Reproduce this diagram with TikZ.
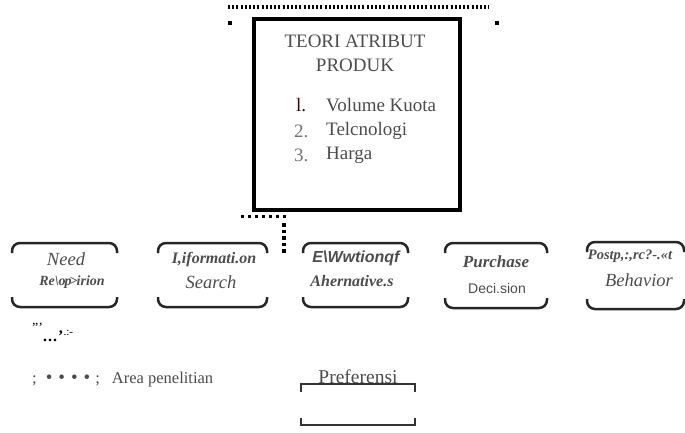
\documentclass[tikz,border=0pt]{standalone}
\usepackage{fontspec}
\setmainfont{Liberation Serif}
\setsansfont{Liberation Sans}
\begin{document}
\begin{tikzpicture}[x=1pt,y=-1pt,
  txt/.style={text=black!70, inner sep=0pt, font=\fontsize{17}{19}\selectfont},
  big/.style={txt, font=\fontsize{19}{21}\selectfont},
  itx/.style={txt, font=\fontsize{18.5}{20}\selectfont\itshape},
  bix/.style={txt, font=\fontsize{16}{18}\selectfont\bfseries\itshape},
  bsx/.style={txt, font=\fontsize{16}{18}\selectfont\sffamily\bfseries\itshape},
  brk/.style={line width=2.5pt, rounded corners=8pt, draw=black!85},
  sq/.style={fill=black, inner sep=0pt, minimum size=4pt},
]
\useasboundingbox (0,0) rectangle (685,432);

% top dotted line and corner squares
\coordinate (d1) at (228,7);
\coordinate (d2) at (489,7);
\draw[line width=4pt, dash pattern=on 2pt off 2.2pt] (d1) -- (d2);
\node[sq] (s1) at (230,23) {};
\node[sq] (s2) at (497,23) {};

% main box
\node[draw=black, line width=4pt, minimum width=206pt, minimum height=191pt, inner sep=0pt] (main) at (357,114.5) {};
\node[big] (t1) at (355,41) {TEORI ATRIBUT};
\node[big] (t2) at (355,65) {PRODUK};
\node[big, anchor=west, text=black!55!red!60!black] (n1) at (296,105) {l.};
\node[big, anchor=west] (l1) at (326,105) {Volume Kuota};
\node[big, anchor=west, text=black!55] (n2) at (294,131) {2.};
\node[big, anchor=west] (l2) at (326,131) {Telcnologi};
\node[big, anchor=west, text=black!55] (n3) at (294,155) {3.};
\node[big, anchor=west] (l3) at (326,155) {Harga};

% dots below box and vertical dotted line
\coordinate (b1) at (241,216);
\coordinate (b2) at (286,216);
\draw[line width=3pt, dash pattern=on 2.5pt off 4.5pt] (b1) -- (b2);
\coordinate (v1) at (284,223);
\coordinate (v2) at (284,253);
\draw[line width=4pt, dash pattern=on 3.5pt off 3pt] (v1) -- (v2);

% bracket boxes
\foreach \xa/\xb/\ya/\yb in {12/117/243/307, 158/267/243/307, 303/408/243/307, 445/547/243/308, 587/684/242/309}{
  \draw[brk] (\xa,\ya+10) -- (\xa,\ya) -- (\xb,\ya) -- (\xb,\ya+10);
  \draw[brk] (\xa,\yb-10) -- (\xa,\yb) -- (\xb,\yb) -- (\xb,\yb-10);
}

% box texts
\node[itx] (a1) at (66,259) {Need};
\node[bix, font=\fontsize{14}{16}\selectfont\bfseries\itshape] (a2) at (72,282) {Re\textbackslash{}o\kern-1pt\textit{p}\kern-2pt\textgreater\kern-1pt irion};
\node[bix] (b1t) at (214,260) {I,iformati.on};
\node[itx] (b2t) at (211,282) {Search};
\node[bsx] (c1) at (356,258) {E\textbackslash{}Wwtionqf};
\node[bix] (c2) at (352,281) {Ahernative.s};
\node[bix, font=\fontsize{17}{19}\selectfont\bfseries\itshape] (e1) at (496,262) {Purchase};
\node[txt, font=\fontsize{14}{16}\selectfont\sffamily] (e2) at (497,288) {Deci.sion};
\node[bix, font=\fontsize{14.5}{16}\selectfont\bfseries\itshape] (f1) at (630,256) {Postp,:,rc?-.«t};
\node[itx] (f2) at (639,280) {Behavior};

% legend
\node[txt, font=\fontsize{14}{15}\selectfont, anchor=west, text=black] (g0) at (32,328) {'''};
\node[txt, font=\fontsize{16}{17}\selectfont\bfseries, anchor=west, text=black] (g1) at (43,336) {.\kern1pt.\kern1pt.\kern1pt'\textsuperscript{\mdseries.:-}};
\node[txt, anchor=west, font=\fontsize{16.5}{18}\selectfont] (leg) at (32,380) {;\hspace{9pt}{\fontsize{19}{20}\selectfont\textbullet\kern6pt\textbullet\kern6pt\textbullet\kern6pt\textbullet}\hspace{5pt};\hspace{12pt}Area penelitian};

% Preferensi
\node[txt, font=\fontsize{19.5}{21}\selectfont] (pref) at (358,377) {Preferensi};
\draw[line width=1.3pt, draw=black!80] (301,392) -- (301,384) -- (415,384) -- (415,392);
\draw[line width=1.5pt, draw=black!80] (301,418) -- (301,425) -- (415,425) -- (415,418);
\end{tikzpicture}
\end{document}
